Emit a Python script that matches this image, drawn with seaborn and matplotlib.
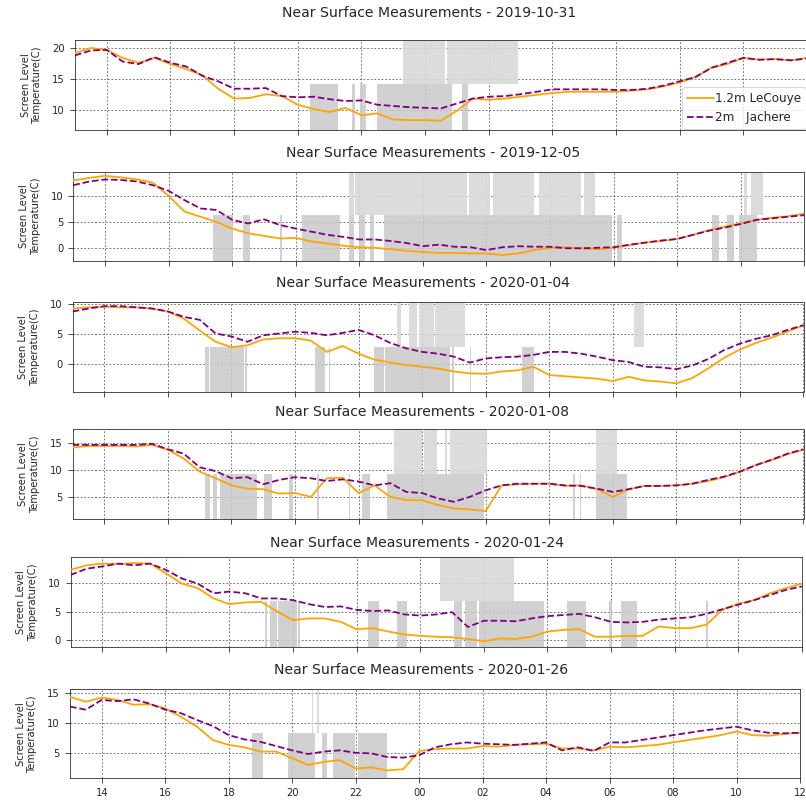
import numpy as np
import matplotlib
matplotlib.use("Agg")
import matplotlib.pyplot as plt
import seaborn as sns

# ---------------- data ----------------
# time axis: hours since 00:00 of first day (13:00 -> 36:00 = 12:00 next day), 30 min steps
hours = np.arange(13.0, 36.01, 0.5)
tick_hours = [14, 16, 18, 20, 22, 24, 26, 28, 30, 32, 34, 36]
tick_labels = ["14", "16", "18", "20", "22", "00", "02", "04", "06", "08", "10", "12"]

dates = ["2019-10-31", "2019-12-05", "2020-01-04", "2020-01-08", "2020-01-24", "2020-01-26"]

lecouye_20191031 = [19.2, 20.0, 19.7, 18.4, 17.6, 18.4, 17.4, 16.6, 15.6, 13.4,
                    11.8, 11.9, 12.5, 12.2, 10.8, 10.1, 9.6, 10.3, 9.1, 9.4,
                    8.4, 8.3, 8.3, 8.2, 9.8, 11.8, 11.6, 11.8, 12.1, 12.4,
                    12.7, 12.9, 12.9, 12.9, 12.9, 13.1, 13.3, 13.8, 14.4, 15.3,
                    16.8, 17.4, 18.4, 18.1, 18.2, 18.0, 18.4]
jachere_20191031 = [18.8, 19.6, 19.7, 17.8, 17.4, 18.5, 17.6, 17.0, 15.5, 14.6,
                    13.4, 13.4, 13.5, 12.2, 12.0, 12.1, 11.7, 11.4, 11.5, 10.8,
                    10.6, 10.4, 10.3, 10.2, 11.0, 11.8, 12.1, 12.2, 12.5, 12.9,
                    13.3, 13.3, 13.3, 13.3, 13.2, 13.2, 13.4, 13.9, 14.6, 15.3,
                    16.8, 17.6, 18.4, 18.1, 18.2, 18.0, 18.3]

lecouye_20191205 = [13.0, 13.5, 13.9, 13.6, 13.2, 12.6, 10.0, 7.0, 6.0, 5.0,
                    3.7, 2.8, 2.3, 1.8, 1.9, 1.2, 0.8, 0.4, 0.1, 0.0,
                    -0.3, -0.6, -0.8, -1.0, -1.0, -1.1, -1.1, -1.4, -1.1, -0.45,
                    0.0, 0.1, -0.1, -0.3, 0.0, 0.5, 1.0, 1.3, 1.7, 2.5,
                    3.4, 4.1, 4.7, 5.4, 5.8, 6.1, 6.6]
jachere_20191205 = [12.1, 12.8, 13.2, 13.1, 12.8, 12.1, 11.0, 9.2, 7.6, 7.3,
                    5.4, 4.7, 5.5, 4.4, 3.7, 3.1, 2.5, 2.1, 1.6, 1.6,
                    1.3, 0.9, 0.3, 0.6, 0.2, 0.1, -0.45, 0.1, 0.3, 0.2,
                    0.2, -0.1, -0.1, 0.0, 0.1, 0.6, 1.0, 1.4, 1.7, 2.5,
                    3.3, 3.9, 4.6, 5.4, 5.7, 6.0, 6.3]

lecouye_20200104 = [9.3, 9.5, 9.6, 9.5, 9.5, 9.3, 8.8, 7.6, 5.6, 3.7,
                    2.8, 3.1, 4.1, 4.3, 4.3, 3.9, 2.0, 3.0, 1.7, 0.7,
                    0.2, -0.2, -0.5, -0.8, -1.3, -1.6, -1.7, -1.3, -1.1, -0.5,
                    -1.9, -2.1, -2.3, -2.5, -2.9, -2.2, -2.8, -3.0, -3.3, -2.4,
                    -0.8, 1.0, 2.4, 3.5, 4.4, 5.4, 6.5]
jachere_20200104 = [8.8, 9.3, 9.7, 9.7, 9.5, 9.3, 8.8, 7.9, 7.4, 5.1,
                    4.6, 3.7, 4.8, 5.1, 5.4, 5.2, 4.8, 5.2, 5.7, 4.8,
                    3.5, 2.6, 2.0, 1.7, 1.2, 0.2, 0.9, 1.1, 1.2, 1.5,
                    2.0, 2.0, 1.7, 1.2, 0.6, 0.3, -0.5, -0.6, -0.9, -0.3,
                    0.8, 2.3, 3.4, 4.2, 4.8, 5.7, 6.5]

lecouye_20200108 = [14.1, 14.4, 14.4, 14.4, 14.3, 14.6, 13.7, 12.1, 9.7, 8.5,
                    7.2, 6.6, 6.5, 5.7, 5.8, 5.1, 8.5, 8.6, 5.8, 7.2,
                    5.1, 4.5, 4.5, 3.6, 3.0, 2.8, 2.5, 7.2, 7.4, 7.5,
                    7.5, 7.1, 7.2, 6.5, 5.1, 6.5, 7.1, 7.1, 7.2, 7.5,
                    8.0, 8.7, 9.7, 10.9, 11.8, 12.9, 13.7]
jachere_20200108 = [14.6, 14.6, 14.6, 14.6, 14.6, 14.8, 13.8, 13.0, 10.5, 9.8,
                    8.5, 8.7, 7.4, 8.2, 8.7, 8.5, 8.0, 8.3, 7.9, 7.2,
                    7.6, 6.0, 5.8, 4.8, 4.2, 5.1, 6.3, 7.2, 7.5, 7.5,
                    7.5, 7.2, 7.1, 6.6, 6.0, 6.5, 7.1, 7.1, 7.2, 7.5,
                    8.2, 8.8, 9.7, 10.9, 11.9, 13.0, 13.8]

lecouye_20200124 = [12.3, 13.1, 13.4, 13.3, 13.5, 13.4, 11.7, 9.9, 9.1, 7.3,
                    6.3, 6.6, 6.7, 5.0, 3.5, 3.8, 3.8, 3.2, 1.9, 2.1,
                    1.5, 1.0, 0.75, 0.6, 0.5, 0.2, -0.2, 0.3, 0.2, 0.6,
                    1.5, 1.8, 1.9, 0.6, 0.6, 0.75, 0.75, 2.4, 2.1, 2.1,
                    2.7, 5.3, 6.4, 7.0, 8.2, 9.1, 9.9]
jachere_20200124 = [11.4, 12.5, 12.9, 13.4, 13.1, 13.4, 12.3, 10.8, 9.9, 8.2,
                    8.5, 8.2, 7.3, 7.3, 7.0, 6.3, 5.8, 5.9, 5.3, 5.1,
                    5.2, 4.5, 4.3, 4.5, 4.9, 2.3, 3.4, 3.4, 3.3, 3.8,
                    4.2, 4.4, 4.6, 4.0, 3.2, 3.1, 3.2, 3.6, 3.8, 4.0,
                    4.6, 5.4, 6.2, 7.0, 7.9, 8.8, 9.4]

lecouye_20200126 = [14.3, 13.5, 14.2, 13.8, 13.0, 13.1, 12.4, 11.0, 9.4, 7.2,
                    6.4, 6.0, 5.3, 5.3, 4.2, 3.1, 3.6, 3.9, 2.5, 2.7,
                    2.2, 2.4, 5.4, 5.7, 5.8, 5.8, 6.2, 6.1, 6.4, 6.5,
                    6.6, 5.8, 5.8, 5.5, 6.1, 6.0, 6.2, 6.4, 6.8, 7.2,
                    7.6, 8.0, 8.6, 8.0, 7.9, 8.2, 8.4]
jachere_20200126 = [12.7, 12.2, 13.8, 13.6, 13.9, 13.2, 12.2, 11.6, 10.5, 9.5,
                    8.0, 7.3, 6.9, 6.2, 5.5, 4.9, 5.3, 5.5, 5.1, 5.0,
                    4.4, 4.3, 4.7, 6.0, 6.5, 6.8, 6.6, 6.5, 6.4, 6.6,
                    6.8, 5.5, 6.0, 5.4, 6.8, 6.8, 7.2, 7.6, 8.0, 8.4,
                    8.8, 9.1, 9.4, 8.8, 8.4, 8.3, 8.4]

# grey flag periods (start hour, end hour): low level and high level
low_20191031 = [(20.39, 21.28), (21.70, 21.80), (21.96, 22.14), (22.48, 24.84), (25.15, 25.36)]
high_20191031 = [(23.32, 24.63), (24.68, 26.93)]
low_20191205 = [(17.41, 18.04), (18.35, 18.57), (19.51, 19.56), (20.19, 21.40), (21.66, 21.82),
                (21.98, 22.19), (22.34, 22.46), (22.77, 29.96), (30.11, 30.27), (33.10, 33.32),
                (33.58, 33.79), (33.95, 34.52)]
high_20191205 = [(21.66, 21.82), (21.87, 25.39), (25.46, 26.12), (26.20, 27.49), (27.65, 28.96),
                 (29.06, 29.43), (34.10, 34.20), (34.31, 34.71)]
low_20200104 = [(17.17, 17.28), (17.33, 18.38), (18.43, 18.49), (20.64, 20.95), (21.06, 21.11),
                (22.47, 22.79), (22.84, 24.89), (24.94, 24.99), (25.50, 25.55), (27.15, 27.52)]
high_20200104 = [(23.21, 23.32), (23.58, 23.84), (23.89, 24.37), (24.40, 25.36), (30.67, 30.98)]
low_20200108 = [(17.17, 17.33), (17.43, 17.54), (17.64, 18.80), (19.01, 19.27), (19.80, 19.95),
                (20.69, 20.74), (21.69, 21.74), (22.11, 22.37), (22.90, 25.94), (28.76, 28.80),
                (28.96, 29.00), (29.46, 30.46)]
high_20200108 = [(23.10, 24.00), (24.05, 24.47), (24.73, 24.78), (24.89, 26.05), (29.46, 30.14)]
low_20200124 = [(19.12, 19.18), (19.28, 19.49), (19.54, 20.12), (20.17, 20.22), (22.37, 22.69),
                (23.27, 23.58), (25.05, 25.31), (25.42, 25.79), (25.84, 27.88), (28.62, 29.20),
                (29.93, 30.04), (30.30, 30.82), (32.13, 32.16), (33.00, 33.05)]
high_20200124 = [(24.63, 26.94)]
low_20200126 = [(18.72, 19.09), (19.88, 20.72), (20.93, 21.09), (21.30, 21.98), (22.08, 22.98)]
high_20200126 = [(20.61, 20.67), (20.77, 20.85)]

# flag level (temperature units) separating low and high grey blocks
flag_levels = [14.1, 6.3, 2.9, 9.34, 6.8, 8.35]

lecouye_all = [lecouye_20191031, lecouye_20191205, lecouye_20200104,
               lecouye_20200108, lecouye_20200124, lecouye_20200126]
jachere_all = [jachere_20191031, jachere_20191205, jachere_20200104,
               jachere_20200108, jachere_20200124, jachere_20200126]
low_all = [low_20191031, low_20191205, low_20200104, low_20200108, low_20200124, low_20200126]
high_all = [high_20191031, high_20191205, high_20200104, high_20200108, high_20200124, high_20200126]

# ---------------- layout / style ----------------
ylims = [(6.7, 21.3), (-2.5, 14.7), (-4.7, 10.35), (1.0, 17.45), (-1.2, 14.5), (0.9, 15.55)]
yticks = [[10, 15, 20], [0, 5, 10], [0, 5, 10], [5, 10, 15], [0, 5, 10], [5, 10, 15]]
rects_px = [(74.9, 40.0, 807.0, 130.0), (73.3, 171.7, 804.3, 260.7), (72.6, 302.3, 803.5, 391.7),
            (72.6, 429.3, 803.5, 519.3), (70.5, 557.3, 801.8, 647.0), (70.0, 689.3, 800.0, 778.3)]
title_px = [(429.3, 13.3), (432.7, 152.7), (423.3, 282.7), (421.7, 412.3), (416.7, 542.7), (420.7, 670.0)]

sns.set_style("ticks")
plt.rcParams['font.family'] = ['DejaVu Sans']
W, H = 806, 802
fig = plt.figure(figsize=(W / 72, H / 72), dpi=72)

for i in range(6):
    l, t, r, b = rects_px[i]
    ax = fig.add_axes([l / W, 1 - b / H, (r - l) / W, (b - t) / H])
    ylo, yhi = ylims[i]
    thr = flag_levels[i]
    lo_s = [s for s, e in low_all[i]]
    lo_w = [e - s for s, e in low_all[i]]
    hi_s = [s for s, e in high_all[i]]
    hi_w = [e - s for s, e in high_all[i]]
    ax.bar(lo_s, [thr - ylo] * len(lo_s), width=lo_w, bottom=ylo, align='edge',
           color='#c9c9c9', alpha=0.85, linewidth=0, zorder=1)
    ax.bar(hi_s, [yhi - thr] * len(hi_s), width=hi_w, bottom=thr, align='edge',
           color='#d9d9d9', alpha=0.9, linewidth=0, zorder=1)
    sns.lineplot(x=hours, y=lecouye_all[i], ax=ax, color='orange', linewidth=1.8,
                 label='1.2m LeCouye', zorder=3)
    sns.lineplot(x=hours, y=jachere_all[i], ax=ax, color='purple', linewidth=1.8,
                 linestyle='--', label='2m   Jachere', zorder=3)
    ax.set_xlim(13, 36)
    ax.set_ylim(ylo, yhi)
    ax.set_yticks(yticks[i])
    ax.set_xticks(tick_hours)
    if i == 5:
        ax.set_xticklabels(tick_labels, fontsize=10)
    else:
        ax.set_xticklabels([])
    ax.tick_params(labelsize=10, length=5, width=0.8, pad=5)
    ax.grid(True, color='0.15', linestyle=(0, (3, 3)), linewidth=0.6)
    ax.set_axisbelow(True)
    tx, ty = title_px[i]
    ax.set_title(f"Near Surface Measurements - {dates[i]}", fontsize=14,
                 x=(tx - l) / (r - l), y=1 + (t - ty) / (b - t), pad=0, va='center')
    ax.set_ylabel("Screen Level\nTemperature(C)", fontsize=10, labelpad=10)
    ax.set_xlabel("")
    for sp in ax.spines.values():
        sp.set_visible(True)
        sp.set_color('0.15')
    if i == 0:
        ax.legend(loc='lower right', fontsize=12, framealpha=0.8, handlelength=2.2,
                  handletextpad=0.1, borderpad=0.4, borderaxespad=0.1)
    else:
        ax.get_legend().remove()

fig.savefig("out.png", dpi=72)
